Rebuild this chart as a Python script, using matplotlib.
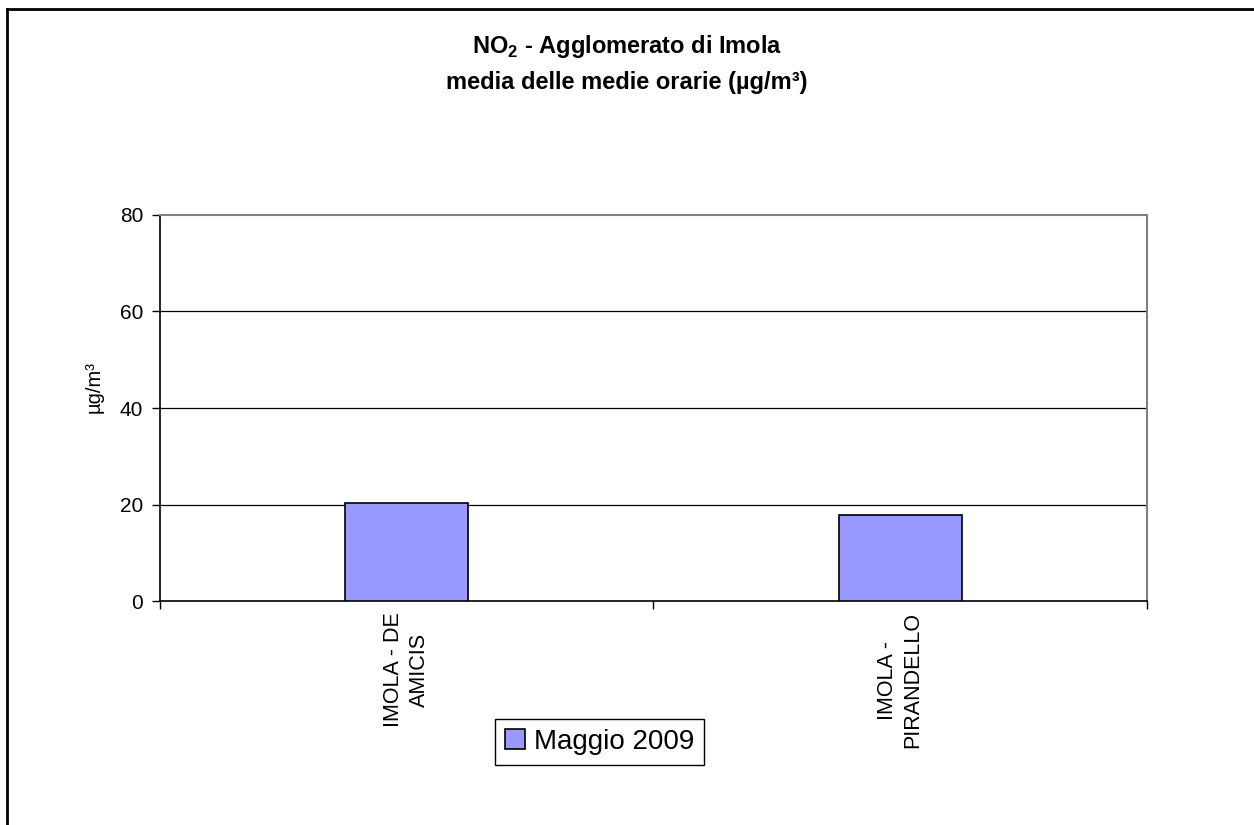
import matplotlib
matplotlib.use("Agg")
import matplotlib.pyplot as plt
from matplotlib.lines import Line2D

plt.rcParams["font.family"] = ["Liberation Sans", "DejaVu Sans"]
plt.rcParams["mathtext.fontset"] = "custom"
plt.rcParams["mathtext.rm"] = "Liberation Sans:bold"
plt.rcParams["mathtext.bf"] = "Liberation Sans:bold"

# dati
stazioni = ["IMOLA - DE\nAMICIS", "IMOLA -\nPIRANDELLO"]
valori = [20.3, 17.8]
serie = "Maggio 2009"
y_ticks = [0, 20, 40, 60, 80]

fig = plt.figure(figsize=(12.54, 8.25), dpi=100)
ax = fig.add_axes([0.1276, 0.2715, 0.787, 0.4679])

x = list(range(len(stazioni)))
ax.bar(x, valori, width=0.25, color="#9999FF", edgecolor="black", linewidth=1.2,
       label=serie, zorder=3)

ax.set_xlim(-0.5, len(stazioni) - 0.5)
ax.set_ylim(0, 80)
ax.set_yticks(y_ticks)
ax.set_yticklabels([str(v) for v in y_ticks], fontsize=15)
for v in y_ticks[1:-1]:
    ax.axhline(v, color="black", linewidth=0.9, zorder=1)

ax.set_xticks(x)
ax.set_xticklabels(stazioni, rotation=90, fontsize=15.5, va="top", ha="center",
                   linespacing=1.3)
ax.tick_params(axis="x", length=0, pad=8)
# tacche tra le categorie
ax.set_xticks([-0.5, 0.5, 1.5], minor=True)
ax.tick_params(axis="x", which="minor", length=6, width=1, color="black")
ax.tick_params(axis="y", length=6, width=1, color="black", pad=6)

for s in ["top", "right"]:
    ax.spines[s].set_color("#808080")
    ax.spines[s].set_linewidth(1.5)
for s in ["left", "bottom"]:
    ax.spines[s].set_color("black")
    ax.spines[s].set_linewidth(1.2)

ax.set_ylabel("µg/m³", fontsize=14.5)
ax.yaxis.set_label_coords(-0.057, 0.554)

fig.text(0.5, 0.923, "NO$_2$ - Agglomerato di Imola\nmedia delle medie orarie (µg/m³)",
         ha="center", va="center", fontsize=17, fontweight="bold", linespacing=1.65)

fig.legend(loc="center", bbox_to_anchor=(0.478, 0.1006), fontsize=20,
           frameon=True, fancybox=False, edgecolor="black", framealpha=1,
           handlelength=0.75, handleheight=0.75, handletextpad=0.3,
           borderpad=0.35, borderaxespad=0)

# cornice esterna
fig.add_artist(Line2D([0.0058, 0.0058], [0.0, 0.989], transform=fig.transFigure,
                      color="black", linewidth=2))
fig.add_artist(Line2D([0.0058, 1.0], [0.989, 0.989], transform=fig.transFigure,
                      color="black", linewidth=2))

fig.savefig("out.png", dpi=100)
